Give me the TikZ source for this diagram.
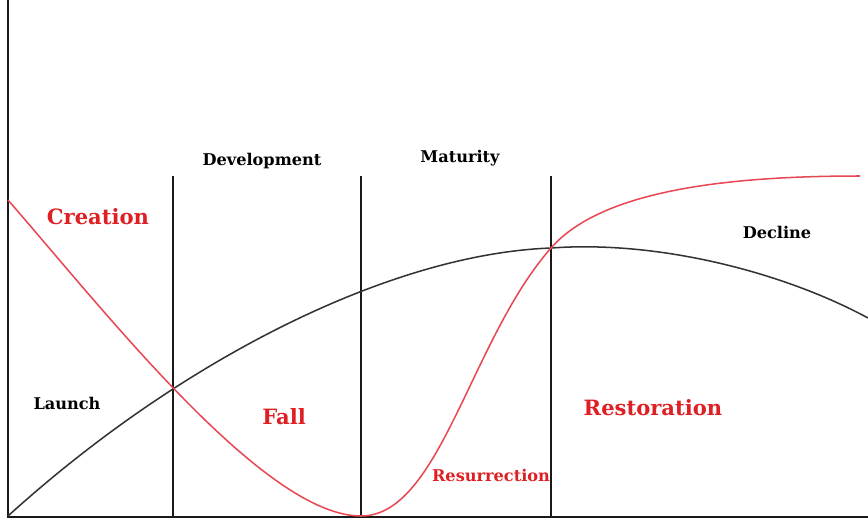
\documentclass[tikz,border=0pt]{standalone}
\usepackage{fontspec}
\setmainfont{DejaVu Serif}
\begin{document}
\begin{tikzpicture}[x=0.03cm,y=-0.03cm,
  axis/.style={line width=2.3pt,black!90},
  phase/.style={line width=2.1pt,black!90},
  lifecurve/.style={line width=1.3pt,black!80},
  arccurve/.style={line width=1.3pt,color=arcred},
  phaselabel/.style={font=\bfseries\fontsize{13.8}{16}\selectfont,text=black,inner sep=0pt},
  biglabel/.style={font=\bfseries\fontsize{18}{21}\selectfont,text=textred,inner sep=0pt},
  smalllabel/.style={font=\bfseries\fontsize{13.8}{16}\selectfont,text=textred,inner sep=0pt}]
\definecolor{arcred}{RGB}{232,72,84}
\definecolor{textred}{RGB}{222,32,36}
\useasboundingbox (0,0) rectangle (868,521);
\fill[white] (0,0) rectangle (868,521);

% axes
\coordinate (origin) at (8,517);
\coordinate (ytop) at (8,0);
\coordinate (xend) at (868,517);
\draw[axis] (ytop) -- (origin) -- (xend);

% phase boundaries
\foreach \px/\nm in {173/a,361/b,551/c}{
  \coordinate (top\nm) at (\px,176);
  \coordinate (bot\nm) at (\px,517);
  \draw[phase] (top\nm) -- (bot\nm);
}

% life-cycle curve: rise to a peak just after maturity, then decline
\coordinate (lcStart) at (8,516);
\coordinate (lcMid) at (551,248);
\coordinate (lcEnd) at (868,318);
\draw[lifecurve] (lcStart) .. controls (180,360) and (390,254) .. (lcMid)
  .. controls (660,240) and (785,273) .. (lcEnd);

% creation, fall, resurrection and restoration curve
\coordinate (rcStart) at (8,200);
\coordinate (rcLow) at (361,516);
\coordinate (rcCross) at (551,248);
\coordinate (rcEnd) at (860,176);
\draw[arccurve] (rcStart) .. controls (108,315) and (265,516) .. (rcLow)
  .. controls (440,516) and (470,340) .. (rcCross)
  .. controls (600,192) and (720,176) .. (rcEnd);

% labels
\node[phaselabel] (launch) at (67,403) {Launch};
\node[phaselabel] (dev) at (262,161) {Development};
\node[phaselabel] (mat) at (460,158) {Maturity};
\node[phaselabel] (dec) at (777,232) {Decline};
\node[biglabel] (creation) at (98,217) {Creation};
\node[biglabel] (fall) at (284,417) {Fall};
\node[biglabel] (rest) at (653,408) {Restoration};
\node[smalllabel] (res) at (491,475) {Resurrection};
\end{tikzpicture}
\end{document}
